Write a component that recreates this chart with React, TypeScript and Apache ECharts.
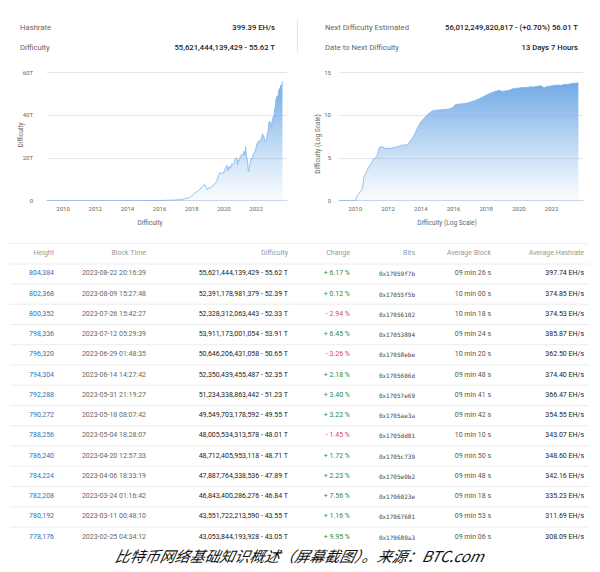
import React, { useEffect, useRef } from 'react';
import * as echarts from 'echarts';

// ---------- header ----------
const headerLeftLabels = ['Hashrate', 'Difficulty'];
const headerLeftValues = ['399.39 EH/s', '55,621,444,139,429 - 55.62 T'];
const headerRightLabels = ['Next Difficulty Estimated', 'Date to Next Difficulty'];
const headerRightValues = ['56,012,249,820,817 - (+0.70%) 56.01 T', '13 Days 7 Hours'];

// ---------- charts ----------
const yearTicks = [2010, 2012, 2014, 2016, 2018, 2020, 2022];
const diffTicksT = [0, 20, 40, 60];
const logTicks = [0, 5, 10, 15];

// difficulty (T), linear chart
const diffDates = [
  '2009-01-03', '2013-01-01', '2015-01-01', '2016-01-01', '2016-07-01', '2017-01-01', '2017-04-01',
  '2017-07-01', '2017-10-01', '2017-12-01', '2018-01-15', '2018-03-01', '2018-05-01', '2018-07-01',
  '2018-08-15', '2018-10-01', '2018-10-25', '2018-11-15', '2018-12-05', '2018-12-20', '2019-01-10',
  '2019-02-15', '2019-03-15', '2019-04-15', '2019-05-15', '2019-06-15', '2019-07-15', '2019-08-10',
  '2019-09-01', '2019-10-01', '2019-11-10', '2019-12-01', '2019-12-20', '2020-01-10', '2020-01-25',
  '2020-02-10', '2020-03-10', '2020-03-28', '2020-04-10', '2020-05-01', '2020-05-20', '2020-06-10',
  '2020-07-01', '2020-08-01', '2020-08-20', '2020-09-10', '2020-10-01', '2020-10-25', '2020-11-05',
  '2020-11-20', '2020-12-15', '2021-01-05', '2021-01-20', '2021-02-10', '2021-03-10', '2021-04-01',
  '2021-04-20', '2021-05-10', '2021-05-25', '2021-06-10', '2021-06-25', '2021-07-05', '2021-07-20',
  '2021-08-01', '2021-08-15', '2021-08-28', '2021-09-15', '2021-10-01', '2021-10-15', '2021-11-01',
  '2021-11-20', '2021-12-10', '2021-12-25', '2022-01-20', '2022-02-15', '2022-03-10', '2022-04-01',
  '2022-04-15', '2022-05-10', '2022-05-25', '2022-06-10', '2022-07-01', '2022-07-20', '2022-08-10',
  '2022-08-25', '2022-09-10', '2022-09-28', '2022-10-12', '2022-10-25', '2022-11-10', '2022-12-06',
  '2022-12-19', '2023-01-02', '2023-01-16', '2023-01-28', '2023-02-12', '2023-02-25', '2023-03-11',
  '2023-03-24', '2023-04-06', '2023-04-20', '2023-05-04', '2023-05-18', '2023-05-31', '2023-06-14',
  '2023-06-29', '2023-07-12', '2023-07-26', '2023-08-09', '2023-08-22',
];
const diffValuesT = [
  0, 0, 0.04, 0.1, 0.2, 0.32, 0.5,
  0.8, 1.2, 1.6, 2.6, 3.3, 4.2, 5.2,
  6.4, 7.2, 7.4, 6.6, 5.6, 5.1, 5.8,
  6.1, 6.1, 6.6, 7.5, 8.0, 9.0, 10.2,
  11.9, 13.0, 12.7, 13.0, 12.9, 13.8, 14.8,
  15.5, 16.5, 13.9, 14.7, 16.1, 15.1, 15.8,
  17.3, 16.8, 17.4, 19.3, 19.9, 19.9, 16.8,
  18.7, 18.6, 20.6, 20.8, 21.7, 21.4, 23.1,
  20.9, 25.0, 21.0, 19.9, 17.6, 14.4, 13.7,
  15.6, 16.8, 18.4, 19.9, 19.3, 20.1, 21.7,
  22.3, 23.1, 24.3, 26.6, 27.5, 28.0, 27.5,
  28.2, 29.8, 31.3, 30.3, 29.6, 27.7, 28.2,
  28.4, 31.0, 32.0, 35.6, 36.8, 36.9, 34.2,
  35.4, 37.6, 37.6, 39.4, 39.2, 43.05, 43.55,
  46.84, 47.89, 48.71, 48.01, 49.55, 51.23, 52.35,
  50.65, 53.91, 52.33, 52.39, 55.62,
];

// log10(difficulty), log chart
const logDates = [
  '2009-01-03', '2009-12-29', '2010-02-15', '2010-05-01', '2010-06-10', '2010-07-05', '2010-07-25',
  '2010-09-01', '2010-10-15', '2010-11-15', '2010-12-20', '2011-02-01', '2011-03-20', '2011-04-20',
  '2011-05-20', '2011-06-20', '2011-07-20', '2011-09-01', '2011-10-20', '2012-01-01', '2012-04-01',
  '2012-07-01', '2012-10-01', '2012-11-20', '2013-01-01', '2013-03-01', '2013-04-20', '2013-07-01',
  '2013-09-01', '2013-10-20', '2013-12-20', '2014-03-15', '2014-06-15', '2014-09-15', '2014-12-15',
  '2015-04-01', '2015-07-01', '2015-10-01', '2015-12-15', '2016-02-01', '2016-04-01', '2016-07-15',
  '2016-10-15', '2017-01-15', '2017-04-15', '2017-07-15', '2017-10-15', '2018-01-01', '2018-04-15',
  '2018-07-15', '2018-10-20', '2018-12-15', '2019-03-01', '2019-06-01', '2019-09-01', '2019-12-15',
  '2020-03-15', '2020-06-15', '2020-09-15', '2020-11-10', '2021-01-15', '2021-05-10', '2021-06-25',
  '2021-07-15', '2021-09-15', '2021-12-15', '2022-03-01', '2022-05-20', '2022-07-20', '2022-10-20',
  '2022-12-10', '2023-02-25', '2023-05-04', '2023-06-29', '2023-08-22',
];
const logValues = [
  0, 0, 0.6, 1.1, 1.4, 2.6, 2.9,
  3.3, 3.8, 4.1, 4.3, 4.8, 5.0, 5.05,
  5.6, 6.2, 6.3, 6.25, 6.1, 6.1, 6.15,
  6.25, 6.4, 6.5, 6.5, 6.5, 6.8, 7.3,
  7.9, 8.5, 9.1, 9.6, 10.1, 10.45, 10.55,
  10.6, 10.62, 10.7, 10.85, 11.15, 11.25, 11.3,
  11.35, 11.5, 11.65, 11.85, 12.1, 12.3, 12.55,
  12.72, 12.87, 12.74, 12.79, 12.88, 13.07, 13.12,
  13.2, 13.19, 13.27, 13.24, 13.31, 13.4, 13.25,
  13.15, 13.3, 13.37, 13.44, 13.49, 13.44, 13.56,
  13.53, 13.63, 13.68, 13.7, 13.75,
];

// ---------- table ----------
const tableHeaders = ['Height', 'Block Time', 'Difficulty', 'Change', 'Bits', 'Average Block', 'Average Hashrate'];
const heights = [804384, 802368, 800352, 798336, 796320, 794304, 792288, 790272, 788256, 786240, 784224, 782208, 780192, 778176];
const blockTimes = [
  '2023-08-22 20:16:39', '2023-08-09 15:27:48', '2023-07-26 15:42:27', '2023-07-12 05:29:39',
  '2023-06-29 01:48:35', '2023-06-14 14:27:42', '2023-05-31 21:19:27', '2023-05-18 08:07:42',
  '2023-05-04 18:28:07', '2023-04-20 12:57:33', '2023-04-06 18:33:19', '2023-03-24 01:16:42',
  '2023-03-11 00:48:10', '2023-02-25 04:34:12',
];
const difficulties = [
  55621444139429, 52391178981379, 52328312063443, 53911173001054, 50646206431058, 52350439455487,
  51234338863442, 49549703178592, 48005534313578, 48712405953118, 47887764338536, 46843400286276,
  43551722213590, 43053844193928,
];
const changes = [6.17, 0.12, -2.94, 6.45, -3.26, 2.18, 3.40, 3.22, -1.45, 1.72, 2.23, 7.56, 1.16, 9.95];
const bits = [
  '0x17059f7b', '0x17055f5b', '0x17056102', '0x17053894', '0x17058ebe', '0x1705606d', '0x17057e69',
  '0x1705ae3a', '0x1705dd01', '0x1705c739', '0x1705e0b2', '0x1706023e', '0x17067681', '0x170689a3',
];
const avgBlocks = [
  '09 min 26 s', '10 min 00 s', '10 min 18 s', '09 min 24 s', '10 min 20 s', '09 min 48 s', '09 min 41 s',
  '09 min 42 s', '10 min 10 s', '09 min 50 s', '09 min 48 s', '09 min 18 s', '09 min 53 s', '09 min 06 s',
];
const avgHashrates = [397.74, 374.85, 374.53, 385.87, 362.50, 374.40, 366.47, 354.55, 343.07, 348.60, 342.16, 335.23, 311.69, 308.09];

const caption = '比特币网络基础知识概述（屏幕截图）。来源：BTC.com';

const FONT = 'Roboto, "Noto Sans", sans-serif';

// date string -> fractional year (x position on the value axis)
function toYear(s: string) {
  const [y, m, d] = s.split('-').map(Number);
  const start = Date.UTC(y, 0, 1);
  const end = Date.UTC(y + 1, 0, 1);
  return y + (Date.UTC(y, m - 1, d) - start) / (end - start);
}

function txt(x: number, y: number, text: string, o: any = {}) {
  const align = o.align || 'left';
  const va = o.va || 'middle';
  const el: any = {
    type: 'text',
    x,
    y,
    rotation: o.rotation || 0,
    silent: true,
    style: {
      text,
      fill: o.fill || '#333',
      fontSize: o.size || 7,
      fontFamily: o.family || FONT,
      fontWeight: o.weight || 'normal',
      fontStyle: o.style || 'normal',
      align,
      verticalAlign: va,
      textAlign: align,
      textVerticalAlign: va,
    },
  };
  if (o.skewX) el.skewX = o.skewX;
  return el;
}

function hline(x1: number, x2: number, y: number, color = '#ececec') {
  return { type: 'line', silent: true, shape: { x1, y1: y, x2, y2: y }, style: { stroke: color, lineWidth: 1 } };
}

function fmtInt(n: number) {
  return n.toLocaleString('en-US');
}

function buildOption() {
  const g: any[] = [];
  // header
  const hy = [27.3, 47.3];
  for (let i = 0; i < 2; i++) {
    g.push(txt(20, hy[i], headerLeftLabels[i], { fill: '#666', size: 7.7 }));
    g.push(txt(275, hy[i], headerLeftValues[i], { fill: '#222', size: 7.7, align: 'right', weight: 500 }));
    g.push(txt(325, hy[i], headerRightLabels[i], { fill: '#666', size: 7.7 }));
    g.push(txt(578, hy[i], headerRightValues[i], { fill: '#222', size: 7.7, align: 'right', weight: 500 }));
  }
  g.push({ type: 'line', silent: true, shape: { x1: 297.5, y1: 20, x2: 297.5, y2: 52 }, style: { stroke: '#e3e3e3', lineWidth: 1 } });

  // axis titles
  g.push(txt(21, 135, 'Difficulty', { fill: '#666', size: 6.5, align: 'center', rotation: Math.PI / 2 }));
  g.push(txt(150, 223, 'Difficulty', { fill: '#666', size: 6.5, align: 'center' }));
  g.push(txt(318, 144, 'Difficulty (Log Scale)', { fill: '#666', size: 6.5, align: 'center', rotation: Math.PI / 2 }));
  g.push(txt(447, 223, 'Difficulty (Log Scale)', { fill: '#666', size: 6.5, align: 'center' }));

  // table
  const colX = [54, 146, 288, 350, 415, 491, 584];
  const headY = 253;
  g.push(hline(10, 589, 243.5, '#f0f0f0'));
  tableHeaders.forEach((h, c) => g.push(txt(colX[c], headY, h, { fill: '#999', size: 7, align: 'right' })));
  g.push(hline(10, 589, 264));
  const y0 = 273.3;
  const dy = 20.26;
  for (let r = 0; r < heights.length; r++) {
    const y = y0 + r * dy;
    const d = difficulties[r];
    const ch = changes[r];
    g.push(txt(colX[0], y, fmtInt(heights[r]), { fill: '#2f73b8', size: 7, align: 'right' }));
    g.push(txt(colX[1], y, blockTimes[r], { fill: '#666', size: 7, align: 'right' }));
    g.push(txt(colX[2], y, fmtInt(d) + ' - ' + (d / 1e12).toFixed(2) + ' T', { fill: '#222', size: 7, align: 'right' }));
    g.push(txt(colX[3], y, (ch >= 0 ? '+ ' : '- ') + Math.abs(ch).toFixed(2) + ' %', {
      fill: ch >= 0 ? '#2e8b2e' : '#e0454a', size: 7, align: 'right',
    }));
    g.push(txt(colX[4], y + 0.5, bits[r], { fill: '#444', size: 6, align: 'right', family: '"DejaVu Sans Mono", monospace' }));
    g.push(txt(colX[5], y, avgBlocks[r], { fill: '#555', size: 7, align: 'right' }));
    g.push(txt(colX[6], y, avgHashrates[r].toFixed(2) + ' EH/s', { fill: '#222', size: 7, align: 'right' }));
    if (r < heights.length - 1) g.push(hline(10, 589, y + dy / 2 + 0.5));
  }

  // caption
  g.push(txt(300, 555, caption, {
    fill: '#111', size: 15, align: 'center', style: 'italic', skewX: -0.22,
    family: '"Noto Sans CJK SC", sans-serif',
  }));

  const xAxisBase = (gridIndex: number) => ({
    type: 'value',
    gridIndex,
    min: 2009,
    max: 2023.92,
    axisLine: { show: true, onZero: false, lineStyle: { color: '#ccd6eb', width: 1 } },
    axisTick: { show: false },
    splitLine: { show: false },
    axisLabel: {
      customValues: yearTicks,
      formatter: (v: number) => String(Math.round(v)),
      color: '#666',
      fontSize: 6,
      fontFamily: FONT,
      margin: 5,
    },
  });

  const grad = () =>
    new echarts.graphic.LinearGradient(0, 0, 0, 1, [
      { offset: 0, color: 'rgba(106,165,227,0.95)' },
      { offset: 1, color: 'rgba(124,181,236,0.03)' },
    ]);

  return {
    animation: false,
    backgroundColor: '#fff',
    textStyle: { fontFamily: FONT },
    grid: [
      { left: 47, top: 72, width: 240, height: 128.7 },
      { left: 339, top: 72, width: 244, height: 128.7 },
    ],
    xAxis: [xAxisBase(0), xAxisBase(1)],
    yAxis: [
      {
        type: 'value',
        gridIndex: 0,
        min: diffTicksT[0],
        max: diffTicksT[diffTicksT.length - 1],
        interval: 20,
        axisLine: { show: false },
        axisTick: { show: false },
        splitLine: { lineStyle: { color: '#e6e6e6', width: 1 } },
        axisLabel: {
          formatter: (v: number) => (v === 0 ? '0' : v + 'T'),
          color: '#666',
          fontSize: 6,
          fontFamily: FONT,
          margin: 14,
        },
      },
      {
        type: 'value',
        gridIndex: 1,
        min: logTicks[0],
        max: logTicks[logTicks.length - 1],
        interval: 5,
        axisLine: { show: false },
        axisTick: { show: false },
        splitLine: { lineStyle: { color: '#e6e6e6', width: 1 } },
        axisLabel: { color: '#666', fontSize: 6, fontFamily: FONT, margin: 8 },
      },
    ],
    series: [
      {
        type: 'line',
        xAxisIndex: 0,
        yAxisIndex: 0,
        data: diffDates.map((d, i) => [toYear(d), diffValuesT[i]]),
        showSymbol: false,
        lineStyle: { color: '#7cb5ec', width: 0.8 },
        areaStyle: { color: grad(), opacity: 1 },
        silent: true,
      },
      {
        type: 'line',
        xAxisIndex: 1,
        yAxisIndex: 1,
        data: logDates.map((d, i) => [toYear(d), logValues[i]]),
        showSymbol: false,
        lineStyle: { color: '#7cb5ec', width: 0.8 },
        areaStyle: { color: grad(), opacity: 1 },
        silent: true,
      },
    ],
    graphic: g,
  };
}

export default function App() {
  const ref = useRef<HTMLDivElement>(null);
  useEffect(() => {
    if (!ref.current) return;
    const chart = echarts.init(ref.current, null, { renderer: 'svg' });
    chart.setOption(buildOption() as any);
    return () => chart.dispose();
  }, []);
  return (
    <div
      ref={ref}
      style={{ position: 'absolute', left: 0, top: 0, width: 600, height: 572, background: '#fff' }}
    />
  );
}
